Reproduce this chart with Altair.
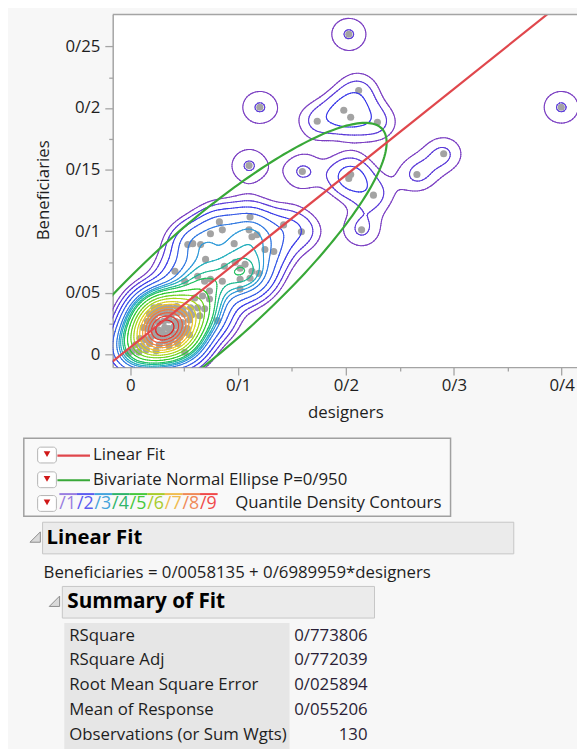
import numpy as np
import pandas as pd
import altair as alt

alt.data_transformers.disable_max_rows()

# ---------------- data ----------------
designers = [
    0.2027, 0.3996, 0.1202, 0.1102, 0.2118, 0.1980, 0.2044, 0.1734, 0.2292, 0.2906,
    0.2658, 0.1596, 0.2044, 0.2026, 0.2255, 0.2145, 0.1422, 0.1587,
    0.1111, 0.0827, 0.0744, 0.0854, 0.1102, 0.1129, 0.0534, 0.0580, 0.0653, 0.0964,
    0.1175, 0.1249, 0.1331, 0.0699, 0.0415, 0.0873, 0.0973, 0.1019, 0.1129, 0.1193,
    0.1065, 0.0506, 0.0625, 0.0690, 0.0744, 0.0854, 0.1019, 0.1111, 0.0735, 0.1019,
    0.0598, 0.0671, 0.0735, 0.0625, 0.0690, 0.0561, 0.0644, 0.0809, 0.0232, 0.0323,
    0.0378, 0.0442, 0.0470, 0.0506, -0.0016,
    0.022, 0.024, 0.026, 0.025, 0.027, 0.023, 0.026, 0.028, 0.024, 0.025,
    0.002, 0.008, 0.015, 0.024,
    0.005, 0.011, 0.018, 0.027, 0.036, 0.044,
    0.009, 0.014, 0.019, 0.031, 0.038, 0.046,
    0.012, 0.017, 0.020, 0.032, 0.036, 0.041, 0.047, 0.053,
    0.016, 0.021, 0.026, 0.031, 0.036, 0.042, 0.048, 0.055,
    0.018, 0.023, 0.028, 0.033, 0.038, 0.044, 0.050, 0.057,
    0.022, 0.027, 0.032, 0.037, 0.043, 0.049, 0.056,
    0.026, 0.032, 0.038, 0.043, 0.050, 0.055,
    0.030, 0.034, 0.040, 0.045,
]
beneficiaries = [
    0.2599, 0.2006, 0.2006, 0.1533, 0.2142, 0.1982, 0.1925, 0.1893, 0.1885, 0.1629,
    0.1461, 0.1485, 0.1461, 0.1429, 0.1293, 0.1012, 0.1052, 0.0996,
    0.1116, 0.1076, 0.0980, 0.1012, 0.1012, 0.0956, 0.0892, 0.0900, 0.0892, 0.0900,
    0.0972, 0.0852, 0.0836, 0.0772, 0.0676, 0.0716, 0.0748, 0.0700, 0.0676, 0.0659,
    0.0732, 0.0595, 0.0635, 0.0595, 0.0611, 0.0595, 0.0611, 0.0619, 0.0515, 0.0531,
    0.0459, 0.0475, 0.0451, 0.0379, 0.0371, 0.0331, 0.0315, 0.0275, 0.0355, 0.0379,
    0.0331, 0.0259, 0.0179, 0.0018, 0.0010,
    0.016, 0.018, 0.017, 0.019, 0.019, 0.017, 0.020, 0.018, 0.016, 0.017,
    0.003, 0.002, 0.004, 0.003,
    0.008, 0.007, 0.009, 0.008, 0.007, 0.009,
    0.013, 0.012, 0.014, 0.013, 0.012, 0.014,
    0.022, 0.021, 0.023, 0.022, 0.021, 0.023, 0.022, 0.021,
    0.027, 0.028, 0.026, 0.027, 0.028, 0.027, 0.026, 0.028,
    0.033, 0.032, 0.034, 0.033, 0.032, 0.034, 0.033, 0.032,
    0.038, 0.039, 0.037, 0.038, 0.039, 0.037, 0.038,
    0.015, 0.011, 0.019, 0.015, 0.018, 0.016,
    0.017, 0.016, 0.017, 0.018,
]

x_major = [0, 0.1, 0.2, 0.3, 0.4]
y_major = [0, 0.05, 0.1, 0.15, 0.2, 0.25]
x_minor = [0.05, 0.15, 0.25, 0.35]
y_minor = [0.025, 0.075, 0.125, 0.175, 0.225]

fit_intercept = 0.0058135
fit_slope = 0.6989959
summary_labels = ["RSquare", "RSquare Adj", "Root Mean Square Error",
                  "Mean of Response", "Observations (or Sum Wgts)"]
summary_values = [0.773806, 0.772039, 0.025894, 0.055206, 130]
ellipse_p = 0.95
contour_quantiles = [round(0.05 * k, 2) for k in range(1, 20)]
legend_digits = ["1", "2", "3", "4", "5", "6", "7", "8", "9"]

# ---------------- styles ----------------
FONT = "Open Sans"
TXT = "#1e1e1e"
FS = 17
contour_colors = ["#7b3fc2", "#5a3ad8", "#3a3ae8", "#3458e6", "#2f78e0", "#2c98d8",
                  "#22aebc", "#1cb890", "#22c060", "#2cc82c", "#6ed020", "#a8d418",
                  "#d8d020", "#f0c028", "#f0a030", "#f08038", "#ee6038", "#e84030",
                  "#e02020"]
legend_colors = ["#9a7ee0", "#5c5cf0", "#44a4dc", "#2fb46a", "#46c83c",
                 "#a8cc2c", "#f0bc50", "#f08a58", "#f04a4a"]

X_DOM = [-0.0162, 0.4142]
Y_DOM = [-0.0102, 0.2759]
W, H = 470, 357
OX, OY = 114, 10          # plot-area origin in the picture
TOTAL_H = 741

xd = np.array(designers)
yb = np.array(beneficiaries)

# ---------------- derived layers ----------------
fx = np.array(X_DOM)
fit_df = pd.DataFrame({"x": fx, "y": fit_intercept + fit_slope * fx})

n = summary_values[4]
r2 = summary_values[0]
rm = summary_values[2]
my = summary_values[3]
mx = (my - fit_intercept) / fit_slope
var_y = rm ** 2 * (n - 2) / ((1 - r2) * (n - 1))
sy = np.sqrt(var_y)
rr = np.sqrt(r2)
sx = rr * sy / fit_slope
cov = np.array([[sx ** 2, rr * sx * sy], [rr * sx * sy, sy ** 2]])
Lc = np.linalg.cholesky(cov)
k = np.sqrt(-2 * np.log(1 - ellipse_p))
tt = np.linspace(0, 2 * np.pi, 241)
E = Lc @ np.vstack([np.cos(tt), np.sin(tt)]) * k
ell_df = pd.DataFrame({"x": mx + E[0], "y": my + E[1], "o": np.arange(len(tt))})

# kernel density + quantile contours
bw = 0.22
hx = bw * xd.std()
hy = bw * yb.std()
gx = np.arange(-0.07, 0.46, 0.002)
gy = np.arange(-0.06, 0.32, 0.0016)
Ex = np.exp(-((gx[None, :] - xd[:, None]) ** 2) / (2 * hx ** 2))
Ey = np.exp(-((gy[None, :] - yb[:, None]) ** 2) / (2 * hy ** 2))
F = Ey.T @ Ex
fs = np.sort(F.ravel())
cum = np.cumsum(fs) / fs.sum()


def march(F, gx, gy, L):
    a = F[:-1, :-1]; b = F[:-1, 1:]; c = F[1:, 1:]; d = F[1:, :-1]
    X0 = np.broadcast_to(gx[:-1][None, :], a.shape)
    X1 = np.broadcast_to(gx[1:][None, :], a.shape)
    Y0 = np.broadcast_to(gy[:-1][:, None], a.shape)
    Y1 = np.broadcast_to(gy[1:][:, None], a.shape)
    with np.errstate(divide="ignore", invalid="ignore"):
        t0 = (L - a) / (b - a)
        t1 = (L - b) / (c - b)
        t2 = (L - c) / (d - c)
        t3 = (L - d) / (a - d)
    ed = [(X0 + t0 * (X1 - X0), Y0), (X1, Y0 + t1 * (Y1 - Y0)),
          (X1 + t2 * (X0 - X1), Y1), (X0, Y1 + t3 * (Y0 - Y1))]
    idx = (a > L) * 1 + (b > L) * 2 + (c > L) * 4 + (d > L) * 8
    table = {1: [(3, 0)], 2: [(0, 1)], 3: [(3, 1)], 4: [(1, 2)], 5: [(3, 0), (1, 2)],
             6: [(0, 2)], 7: [(3, 2)], 8: [(2, 3)], 9: [(0, 2)], 10: [(0, 1), (2, 3)],
             11: [(1, 2)], 12: [(1, 3)], 13: [(0, 1)], 14: [(0, 3)]}
    out = []
    for case, pairs in table.items():
        m = idx == case
        if not m.any():
            continue
        for p, q in pairs:
            out.append(np.column_stack([ed[p][0][m], ed[p][1][m], ed[q][0][m], ed[q][1][m]]))
    return np.vstack(out) if out else np.zeros((0, 4))


rows = []
for q in contour_quantiles:
    thr = fs[min(np.searchsorted(cum, q), len(fs) - 1)]
    seg = march(F, gx, gy, thr)
    df = pd.DataFrame(np.round(seg, 5), columns=["x", "y", "x2", "y2"])
    df["lev"] = f"{q:.2f}"
    rows.append(df)
cont_df = pd.concat(rows, ignore_index=True)

pts_df = pd.DataFrame({"x": designers, "y": beneficiaries})

# ---------------- axes ----------------
def js_list(vals):
    return "[" + ",".join('"%g"' % v for v in vals) + "]"


xs = alt.Scale(domain=X_DOM, nice=False, zero=False)
ys = alt.Scale(domain=Y_DOM, nice=False, zero=False)
x_axis = alt.Axis(
    values=sorted(x_major + x_minor), title=None, grid=False,
    labelExpr="indexof(" + js_list(x_major) +
              ", format(datum.value, '.2~f')) >= 0 ? replace(format(datum.value, '.2~f'), '.', '/') : ''",
    tickSize={"condition": {"test": "indexof(" + js_list(x_minor) +
                                    ", format(datum.value, '.2~f')) >= 0", "value": 4}, "value": 8},
    domainColor="#a4a4a4", tickColor="#a4a4a4", domainWidth=1.5, tickWidth=1.3,
    labelColor=TXT, labelFont=FONT, labelFontSize=17, labelPadding=3,
    labelFlush=False, labelOverlap=False)
y_axis = alt.Axis(
    values=sorted(y_major + y_minor), title=None, grid=False,
    labelExpr="indexof(" + js_list(y_major) +
              ", format(datum.value, '.3~f')) >= 0 ? replace(format(datum.value, '.3~f'), '.', '/') : ''",
    tickSize={"condition": {"test": "indexof(" + js_list(y_minor) +
                                    ", format(datum.value, '.3~f')) >= 0", "value": 4}, "value": 8},
    domainColor="#a4a4a4", tickColor="#a4a4a4", domainWidth=1.5, tickWidth=1.3,
    labelColor=TXT, labelFont=FONT, labelFontSize=17, labelPadding=5,
    labelFlush=False, labelOverlap=False)

X = lambda f: alt.X(f, type="quantitative", scale=xs, axis=x_axis)
Y = lambda f: alt.Y(f, type="quantitative", scale=ys, axis=y_axis)

points = alt.Chart(pts_df).mark_circle(size=52, color="#a3a3a3", opacity=1).encode(x=X("x"), y=Y("y"))
contours = alt.Chart(cont_df).mark_rule(strokeWidth=1.1, clip=True, strokeCap="round").encode(
    x=X("x"), y=Y("y"), x2="x2", y2="y2",
    color=alt.Color("lev:N", scale=alt.Scale(domain=[f"{q:.2f}" for q in contour_quantiles],
                                             range=contour_colors), legend=None))
ellipse = alt.Chart(ell_df).mark_line(color="#38a838", strokeWidth=2.2, clip=True).encode(
    x=X("x"), y=Y("y"), order="o:Q")
fitline = alt.Chart(fit_df).mark_line(color="#e0474c", strokeWidth=2.2, clip=True).encode(
    x=X("x"), y=Y("y"))

# ---------------- report decorations ----------------
one = pd.DataFrame({"k": [0]})
base = alt.Chart(one)


def px(v):
    return alt.value(v - OX)


def py(v):
    return alt.value(v - OY)


def txt(s, x, y, size=FS, weight="normal", color=TXT, align="left", angle=0):
    return base.mark_text(text=s, align=align, baseline="middle", fontSize=size,
                          fontWeight=weight, color=color, font=FONT, angle=angle).encode(
        x=px(x), y=py(y))


def box(x0, x1, y0, y1, fill, stroke, sw=1.0, cr=0):
    return base.mark_rect(fill=fill, stroke=stroke, strokeWidth=sw, cornerRadius=cr).encode(
        x=px(x0), x2=px(x1), y=py(y0), y2=py(y1))


def hline(x0, x1, y, color, sw=2.2):
    return base.mark_rule(color=color, strokeWidth=sw).encode(x=px(x0), x2=px(x1), y=py(y))


deco = []
deco.append(base.mark_rule(color="#a4a4a4", strokeWidth=1.5).encode(
    x=alt.value(0), x2=alt.value(W), y=alt.value(0)))
deco.append(txt("Beneficiaries", 45, 188, align="center", angle=270))
deco.append(txt("designers", 350, 413, align="center"))

# legend box
deco.append(box(24, 456, 439, 518, "#f9f9f9", "#a0a0a0", 1.5))
for cy in [456, 481, 505]:
    deco.append(box(38, 57, cy - 8, cy + 8, "#ffffff", "#b4b4b4", 1.0, 3))
    deco.append(base.mark_point(shape="triangle-down", filled=True, color="#d01818",
                                size=45, opacity=1).encode(x=px(47.5), y=py(cy - 1)))
deco.append(hline(58, 91, 456.5, "#e0474c"))
deco.append(hline(58, 91, 481.5, "#38a838"))
deco.append(txt("Linear Fit", 94, 456))
deco.append(txt("Bivariate Normal Ellipse P=" + f"{ellipse_p:.3f}".replace(".", "/"), 94, 481))
step = 17.8
for i, (dg, col) in enumerate(zip(legend_digits, legend_colors)):
    deco.append(hline(60 + i * step, 60 + (i + 1) * step, 495.5, col, 2))
    deco.append(txt("/" + dg, 60 + i * step, 506, size=18, color=col))
deco.append(txt("Quantile Density Contours", 238, 505))

# Linear Fit header
deco.append(box(43, 520, 524, 556, "#ebebeb", "#c6c6c6", 1.0))
deco.append(base.mark_point(shape="M 1 -1 L 1 1 L -1 1 Z", filled=True, fill="#dadada",
                            stroke="#8c8c8c", strokeWidth=1, size=110, opacity=1).encode(
    x=px(35.5), y=py(539)))
deco.append(txt("Linear Fit", 47, 540, size=20.5, weight="bold", color="#000000"))
eq = ("Beneficiaries = " + f"{fit_intercept:.7f}".replace(".", "/") + " + " +
      f"{fit_slope:.7f}".replace(".", "/") + "*designers")
deco.append(txt(eq, 44, 575))

# Summary of Fit
deco.append(box(63, 379, 589, 621, "#ebebeb", "#c6c6c6", 1.0))
deco.append(base.mark_point(shape="M 1 -1 L 1 1 L -1 1 Z", filled=True, fill="#dadada",
                            stroke="#8c8c8c", strokeWidth=1, size=110, opacity=1).encode(
    x=px(55), y=py(604)))
deco.append(txt("Summary of Fit", 68, 605, size=21, weight="bold", color="#000000"))
deco.append(box(65, 293, 626, OY + TOTAL_H + 10, "#e6e6e6", "#e6e6e6", 0))
for i, (lab, val) in enumerate(zip(summary_labels, summary_values)):
    cy = 639 + 25 * i
    deco.append(txt(lab, 70, cy))
    vs = str(val) if isinstance(val, int) else f"{val:.6f}".replace(".", "/")
    deco.append(txt(vs, 372, cy, color="#2a1e36", align="right"))

chart = alt.layer(points, contours, ellipse, fitline, *deco).properties(
    width=W, height=H,
    autosize=alt.AutoSizeParams(type="none"),
    padding={"left": OX - 8, "top": OY - 8, "right": 0, "bottom": TOTAL_H - (OY - 8) - H},
    background="#f7f7f7",
).configure_view(fill="#ffffff", stroke="transparent")

chart.save("out.html", embed_options={"renderer": "svg", "actions": False})
